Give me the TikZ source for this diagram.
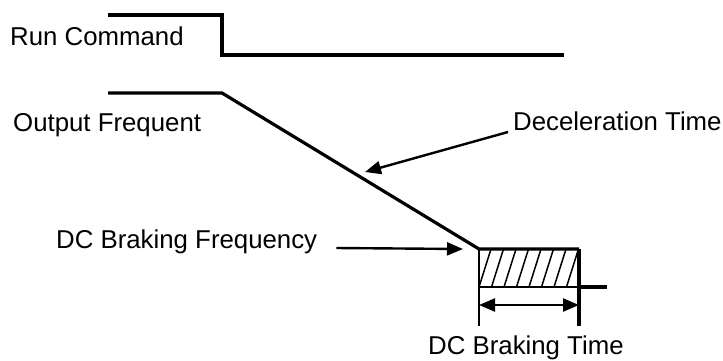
\documentclass[tikz,border=0pt]{standalone}
\usepackage{fontspec}
\setmainfont{Liberation Sans}
\usetikzlibrary{arrows.meta}

\begin{document}
\begin{tikzpicture}[
x=1pt,y=-1pt,
signal/.style={line width=3.2pt,line join=miter},
edge/.style={line width=2.6pt},
hatch/.style={line width=1.5pt},
pointer/.style={line width=2.4pt,-{Triangle[length=16pt,width=13pt]}},
span/.style={line width=2.4pt,{Triangle[length=16pt,width=13pt]}-{Triangle[length=16pt,width=13pt]}},
every node/.style={anchor=base west,inner sep=0pt,font=\fontsize{25.8}{30}\selectfont}
]
\useasboundingbox (0,0) rectangle (723,360);

% labels
\node (runcmd) at (10,45) {Run Command};
\node (outfreq) at (13,131) {Output Frequent};
\node (dectime) at (513,130) {Deceleration Time};
\node (dcfreq) at (56,248) {DC Braking Frequency};
\node (dctime) at (428,354) {DC Braking Time};

% run command
\coordinate (runA) at (108,15);
\coordinate (runB) at (222,15);
\coordinate (runC) at (222,55);
\coordinate (runD) at (564,55);
\draw[signal] (runA) -- (runB) -- (runC) -- (runD);

% output frequency
\coordinate (outA) at (108,93);
\coordinate (outB) at (222,93);
\coordinate (brkTL) at (479,249);
\coordinate (brkTR) at (579,249);
\coordinate (brkBL) at (479,287);
\coordinate (brkBR) at (579,287);
\coordinate (outE) at (607,287);
\draw[signal] (outA) -- (outB) -- (brkTL) -- (brkTR);
\draw[signal] (brkBR) -- (outE);
\draw[edge] (brkBL) -- (brkBR);
\foreach \i in {0,...,7}
  \draw[hatch] (479+12.5*\i,287) -- (491+12.5*\i,249);

% braking time
\coordinate (limL) at (479,326);
\coordinate (limR) at (579,326);
\draw[edge] (brkTL) -- (limL);
\draw[signal] (brkTR) -- (limR);
\draw[span] (479,305) -- (579,305);

% pointers
\coordinate (decTip) at (365,172);
\draw[pointer] ([shift={(-5,2)}]dectime.base west) -- (decTip);
\draw[pointer] ([xshift=19pt]dcfreq.base east) -- ([xshift=-16pt]brkTL);
\end{tikzpicture}
\end{document}
